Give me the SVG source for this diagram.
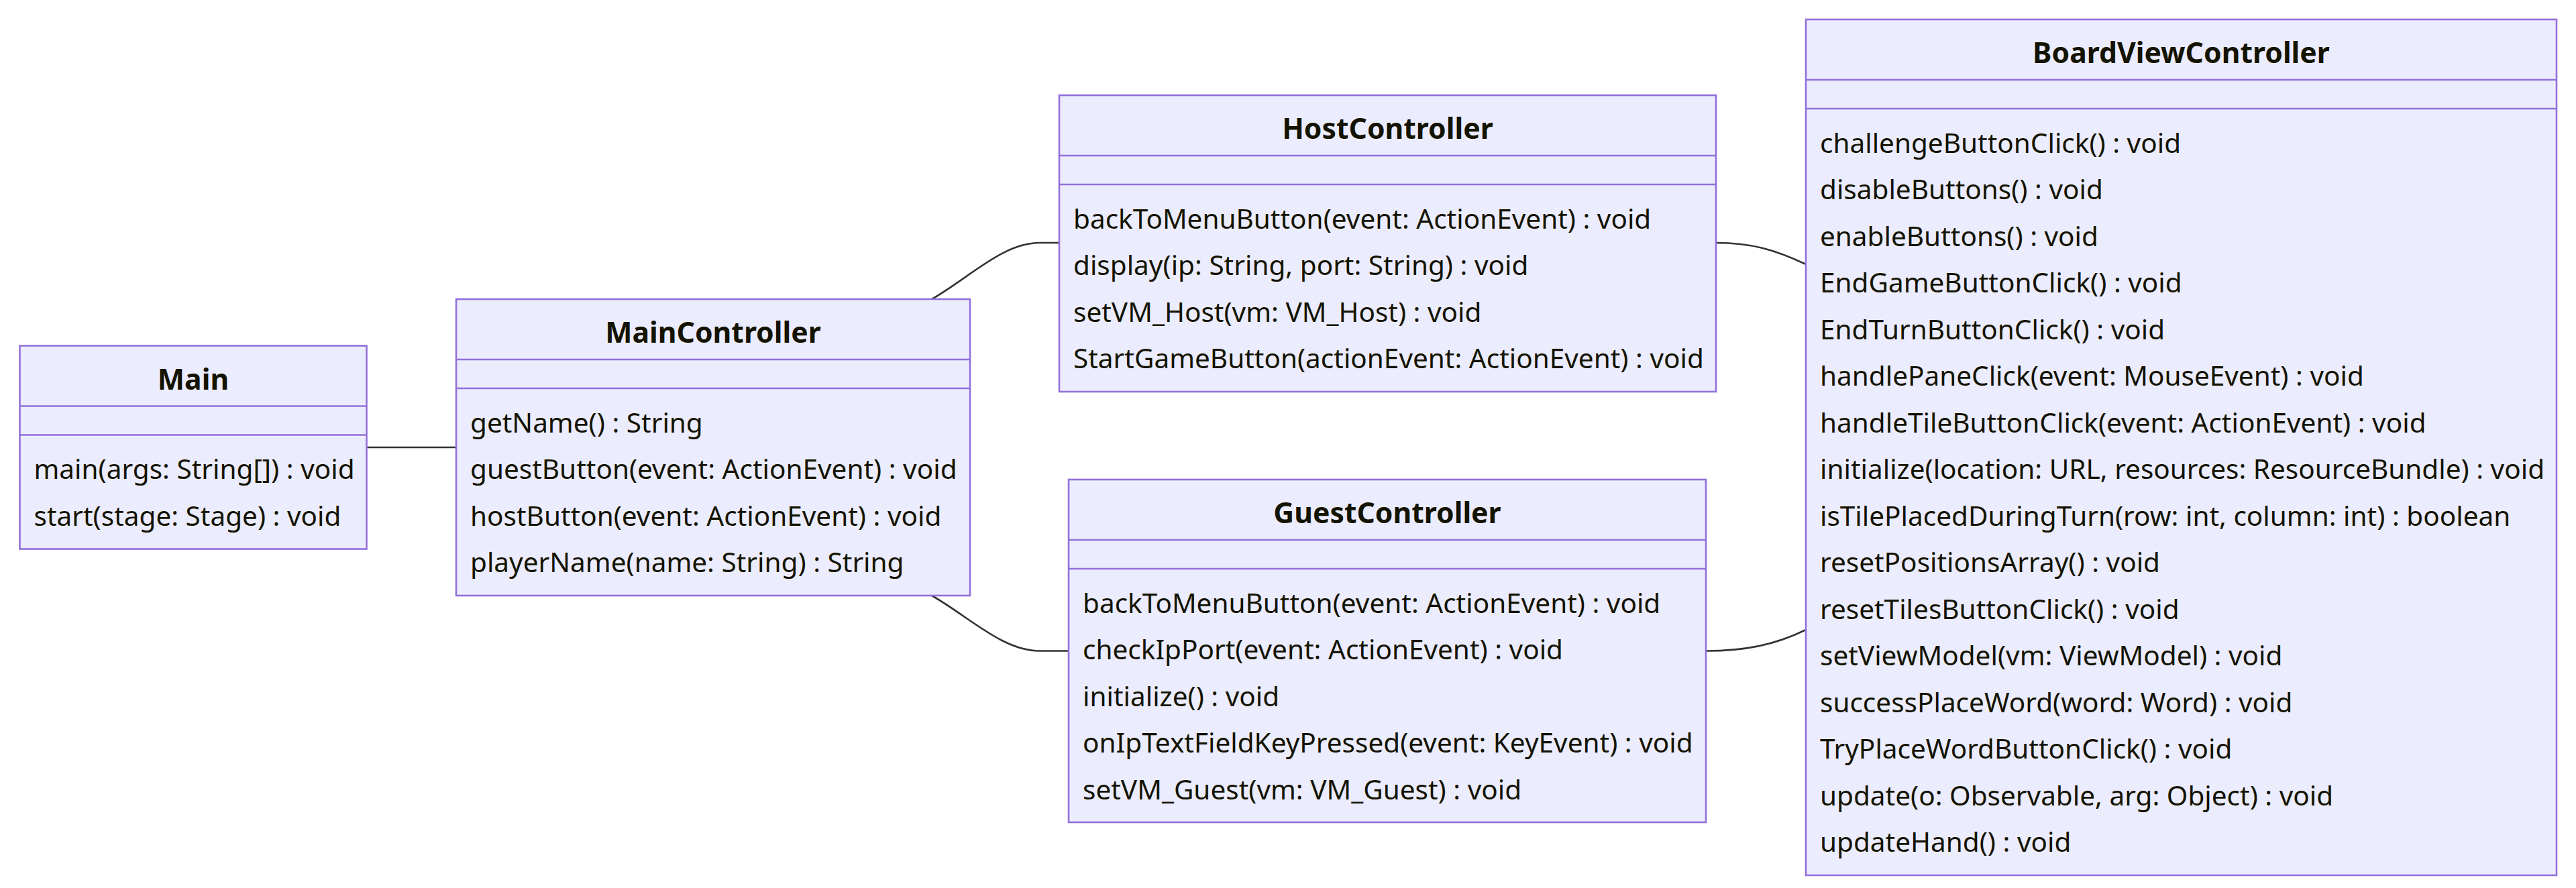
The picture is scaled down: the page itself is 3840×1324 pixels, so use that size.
<svg xmlns="http://www.w3.org/2000/svg" width="3840" height="1324" viewBox="0 0 3840 1324">
<style>
.box{fill:#ECECFF;stroke:#9370DB;stroke-width:2.6}
.div{stroke:#9370DB;stroke-width:2.6}
.title{font-family:"Noto Sans","Open Sans",sans-serif;font-size:42.7px;font-weight:bold;fill:#131300;text-anchor:middle}
.mem{font-family:"Noto Sans","Open Sans",sans-serif;font-size:40.5px;fill:#131300}
.edge{fill:none;stroke:#333333;stroke-width:2.6}
</style>
<rect width="3840" height="1324" fill="#ffffff"/>
<g id="connectors">
<path class="edge" d="M546.5,667 L680,667"/>
<path class="edge" d="M1389,446 C1445,414 1495,362 1550,362 L1579,362"/>
<path class="edge" d="M1389,888 C1445,920 1495,970.5 1550,970.5 L1593,970.5"/>
<path class="edge" d="M2558,362 C2610,362 2645,372 2692,394"/>
<path class="edge" d="M2543,970.5 C2600,970.5 2645,962 2692,939"/>
</g>
<g id="Main">
<rect class="box" x="29.5" y="515.5" width="517" height="303"/>
<line class="div" x1="29.5" y1="605.5" x2="546.5" y2="605.5"/>
<line class="div" x1="29.5" y1="648.5" x2="546.5" y2="648.5"/>
<text class="title" x="288" y="580.5">Main</text>
<text class="mem" x="50.5" y="714">main(args: String[]) : void</text>
<text class="mem" x="50.5" y="783.5">start(stage: Stage) : void</text>
</g>
<g id="MainController">
<rect class="box" x="680" y="446" width="766" height="442"/>
<line class="div" x1="680" y1="536" x2="1446" y2="536"/>
<line class="div" x1="680" y1="579" x2="1446" y2="579"/>
<text class="title" x="1063" y="511">MainController</text>
<text class="mem" x="701" y="644.5">getName() : String</text>
<text class="mem" x="701" y="714">guestButton(event: ActionEvent) : void</text>
<text class="mem" x="701" y="783.5">hostButton(event: ActionEvent) : void</text>
<text class="mem" x="701" y="853">playerName(name: String) : String</text>
</g>
<g id="HostController">
<rect class="box" x="1579" y="142" width="979" height="442"/>
<line class="div" x1="1579" y1="232" x2="2558" y2="232"/>
<line class="div" x1="1579" y1="275" x2="2558" y2="275"/>
<text class="title" x="2068.5" y="207">HostController</text>
<text class="mem" x="1600" y="340.5">backToMenuButton(event: ActionEvent) : void</text>
<text class="mem" x="1600" y="410">display(ip: String, port: String) : void</text>
<text class="mem" x="1600" y="479.5">setVM_Host(vm: VM_Host) : void</text>
<text class="mem" x="1600" y="549">StartGameButton(actionEvent: ActionEvent) : void</text>
</g>
<g id="GuestController">
<rect class="box" x="1593" y="715" width="950" height="511"/>
<line class="div" x1="1593" y1="805" x2="2543" y2="805"/>
<line class="div" x1="1593" y1="848" x2="2543" y2="848"/>
<text class="title" x="2068" y="780">GuestController</text>
<text class="mem" x="1614" y="913.5">backToMenuButton(event: ActionEvent) : void</text>
<text class="mem" x="1614" y="983">checkIpPort(event: ActionEvent) : void</text>
<text class="mem" x="1614" y="1052.5">initialize() : void</text>
<text class="mem" x="1614" y="1122">onIpTextFieldKeyPressed(event: KeyEvent) : void</text>
<text class="mem" x="1614" y="1191.5">setVM_Guest(vm: VM_Guest) : void</text>
</g>
<g id="BoardViewController">
<rect class="box" x="2692" y="29" width="1119" height="1276"/>
<line class="div" x1="2692" y1="119" x2="3811" y2="119"/>
<line class="div" x1="2692" y1="162" x2="3811" y2="162"/>
<text class="title" x="3251.5" y="94">BoardViewController</text>
<text class="mem" x="2713" y="227.5">challengeButtonClick() : void</text>
<text class="mem" x="2713" y="297">disableButtons() : void</text>
<text class="mem" x="2713" y="366.5">enableButtons() : void</text>
<text class="mem" x="2713" y="436">EndGameButtonClick() : void</text>
<text class="mem" x="2713" y="505.5">EndTurnButtonClick() : void</text>
<text class="mem" x="2713" y="575">handlePaneClick(event: MouseEvent) : void</text>
<text class="mem" x="2713" y="644.5">handleTileButtonClick(event: ActionEvent) : void</text>
<text class="mem" x="2713" y="714">initialize(location: URL, resources: ResourceBundle) : void</text>
<text class="mem" x="2713" y="783.5">isTilePlacedDuringTurn(row: int, column: int) : boolean</text>
<text class="mem" x="2713" y="853">resetPositionsArray() : void</text>
<text class="mem" x="2713" y="922.5">resetTilesButtonClick() : void</text>
<text class="mem" x="2713" y="992">setViewModel(vm: ViewModel) : void</text>
<text class="mem" x="2713" y="1061.5">successPlaceWord(word: Word) : void</text>
<text class="mem" x="2713" y="1131">TryPlaceWordButtonClick() : void</text>
<text class="mem" x="2713" y="1200.5">update(o: Observable, arg: Object) : void</text>
<text class="mem" x="2713" y="1270">updateHand() : void</text>
</g>
</svg>
